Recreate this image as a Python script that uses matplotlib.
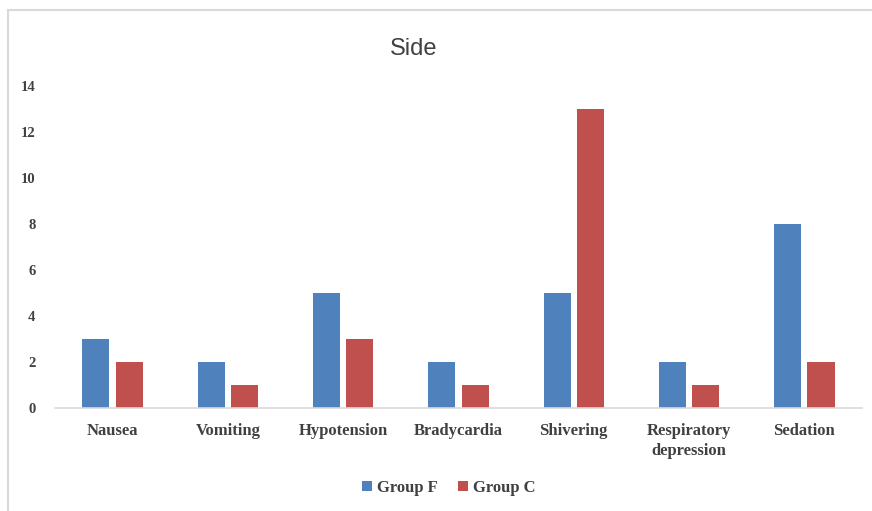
import numpy as np
import matplotlib
matplotlib.use("Agg")
import matplotlib.pyplot as plt
from matplotlib.patches import Rectangle

# Data
categories = ["Nausea", "Vomiting", "Hypotension", "Bradycardia", "Shivering",
              "Respiratory\ndepression", "Sedation"]
group_f = [3, 2, 5, 2, 5, 2, 8]
group_c = [2, 1, 3, 1, 13, 1, 2]
y_ticks = [0, 2, 4, 6, 8, 10, 12, 14]

BLUE = "#4F81BD"
RED = "#C0504D"
TEXT = "#404040"
SERIF = ["Liberation Serif", "DejaVu Serif"]

fig = plt.figure(figsize=(8.72, 5.11), dpi=100)
ax = fig.add_axes([0.063, 0.2016, 0.9255, 0.6301])

x = np.arange(len(categories))
w = 0.235
ax.bar(x - w / 2 - 0.027, group_f, w, color=BLUE, label="Group F")
ax.bar(x + w / 2 + 0.027, group_c, w, color=RED, label="Group C")

ax.set_xlim(-0.5, len(categories) - 0.5)
ax.set_ylim(0, 14)
ax.set_yticks(y_ticks)
ax.set_yticklabels([str(v) for v in y_ticks], family=SERIF, fontweight="bold",
                   fontsize=10.5, color=TEXT)
ax.set_xticks(x)
ax.set_xticklabels(categories, family=SERIF, fontweight="bold", fontsize=12,
                   color=TEXT, linespacing=1.3, va="top")
ax.tick_params(axis="both", length=0)
ax.tick_params(axis="x", pad=11)
ax.tick_params(axis="y", pad=14)

for s in ["top", "right", "left"]:
    ax.spines[s].set_visible(False)
ax.spines["bottom"].set_color("#d9d9d9")
ax.spines["bottom"].set_linewidth(1.2)

fig.text(0.474, 0.905, "Side", ha="center", va="center", fontsize=17,
         family=["Liberation Sans", "DejaVu Sans"], color="#404040")

leg = fig.legend(loc="center", bbox_to_anchor=(0.515, 0.045), ncol=2, frameon=False,
                 prop={"family": SERIF, "weight": "bold", "size": 12},
                 handlelength=0.6, handleheight=0.6, handletextpad=0.3,
                 columnspacing=1.2)
for t in leg.get_texts():
    t.set_color(TEXT)

# light frame around the chart area
fig.patches.append(Rectangle((8 / 872, -0.01), 1.0, 1 - 10 / 511 + 0.01,
                             transform=fig.transFigure, fill=False,
                             edgecolor="#d9d9d9", linewidth=1.5))

fig.savefig("out.png", dpi=100)
